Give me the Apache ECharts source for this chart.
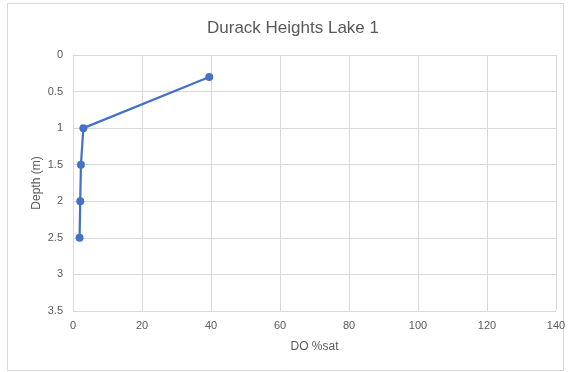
<!DOCTYPE html>
<html>
<head>
<meta charset="utf-8">
<script src="https://cdn.jsdelivr.net/npm/echarts@6/dist/echarts.min.js"></script>
<style>
  html, body { margin: 0; padding: 0; background: #fff; }
  #chart { width: 571px; height: 372px; }
</style>
</head>
<body>
<div id="chart"></div>
<script>
// Dissolved oxygen profile: saturation (%) against depth (m)
const doSat = [39.5, 3.0, 2.3, 2.1, 1.9];
const depth = [0.3, 1.0, 1.5, 2.0, 2.5];
const depthTicks = ['0', '0.5', '1', '1.5', '2', '2.5', '3', '3.5'];

const FONT = '"Liberation Sans", "DejaVu Sans", sans-serif';
const TEXT = '#595959';
const GRID = '#d9d9d9';

const points = doSat.map((v, i) => [v, depth[i]]);

const chart = echarts.init(document.getElementById('chart'), null, { renderer: 'canvas' });
chart.setOption({
  backgroundColor: '#fff',
  animation: false,
  graphic: [{
    type: 'rect',
    shape: { x: 7.5, y: 3.5, width: 556, height: 367 },
    style: { fill: 'none', stroke: '#d9d9d9', lineWidth: 1 },
    silent: true
  }, {
    type: 'text',
    x: 293,
    y: 28,
    style: {
      text: 'Durack Heights Lake 1',
      fontFamily: FONT, fontSize: 17, fill: TEXT,
      align: 'center', verticalAlign: 'middle'
    },
    silent: true
  }],
  grid: { left: 73, right: 15, top: 55, bottom: 61 },
  xAxis: {
    type: 'value',
    min: 0, max: 140, interval: 20,
    name: 'DO %sat',
    nameLocation: 'middle',
    nameGap: 30,
    nameMoveOverlap: false,
    nameTextStyle: { fontFamily: FONT, fontSize: 12, color: TEXT },
    axisLine: { show: true, lineStyle: { color: GRID } },
    axisTick: { show: false },
    axisLabel: { fontFamily: FONT, fontSize: 11, color: TEXT, margin: 9 },
    splitLine: { show: true, lineStyle: { color: GRID } }
  },
  yAxis: {
    type: 'value',
    inverse: true,
    min: 0, max: 3.5, interval: 0.5,
    name: 'Depth (m)',
    nameLocation: 'middle',
    nameGap: 30,
    nameMoveOverlap: false,
    nameTextStyle: { fontFamily: FONT, fontSize: 12, color: TEXT },
    axisLine: { show: true, lineStyle: { color: GRID } },
    axisTick: { show: false },
    axisLabel: {
      fontFamily: FONT, fontSize: 11, color: TEXT, margin: 10,
      formatter: (v) => depthTicks[Math.round(v / 0.5)]
    },
    splitLine: { show: true, lineStyle: { color: GRID } }
  },
  series: [{
    type: 'line',
    data: points,
    symbol: 'circle',
    symbolSize: 8,
    itemStyle: { color: '#4472C4' },
    lineStyle: { color: '#4472C4', width: 2.25 }
  }]
});
</script>
</body>
</html>
